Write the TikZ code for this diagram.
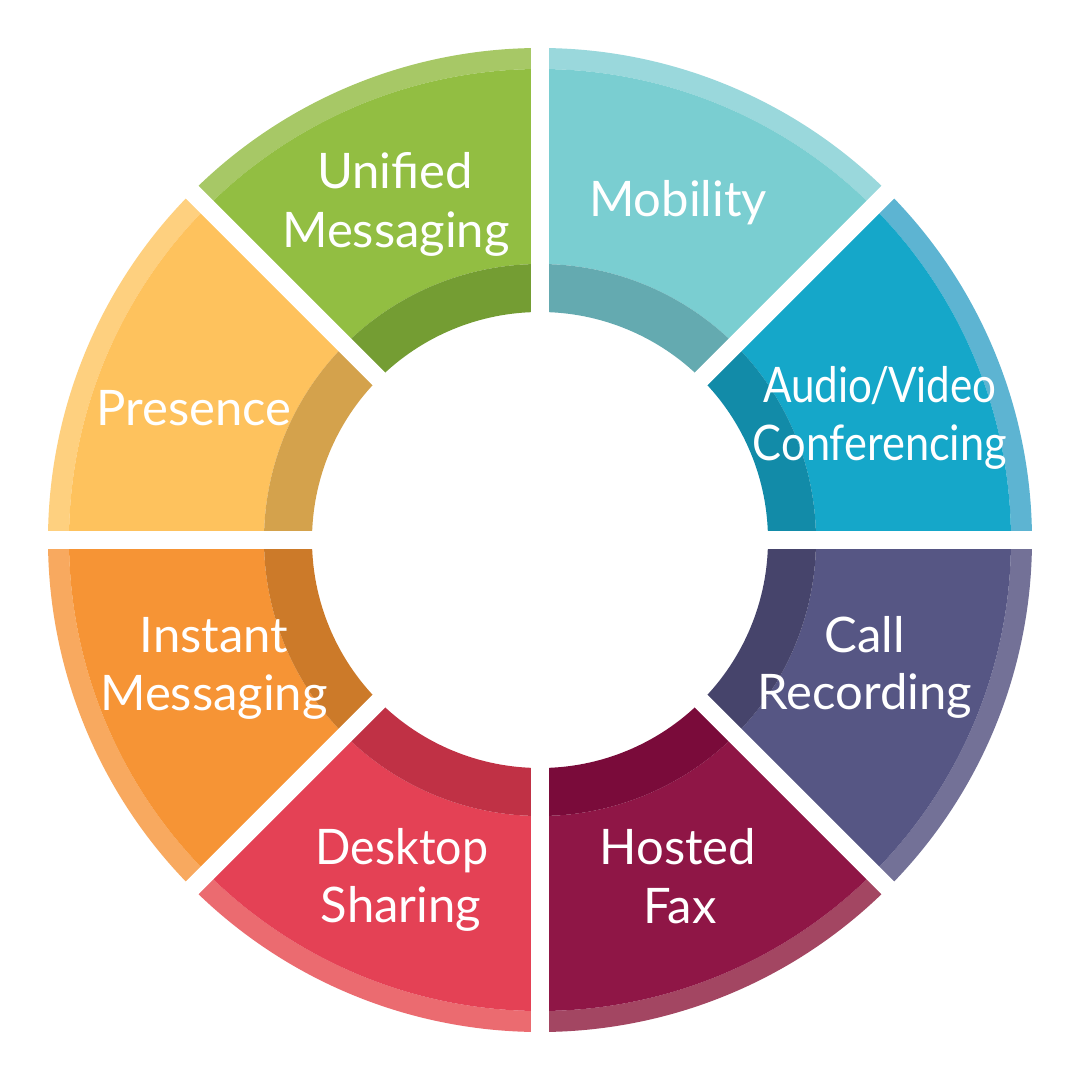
\documentclass[tikz,border=0pt]{standalone}
\usepackage{fontspec}
\setmainfont{Lato}
\definecolor{umM}{HTML}{92BE42}\definecolor{umR}{HTML}{A7C866}\definecolor{umD}{HTML}{749D33}
\definecolor{moM}{HTML}{7ACED1}\definecolor{moR}{HTML}{9AD8DC}\definecolor{moD}{HTML}{64AAB0}
\definecolor{avM}{HTML}{15A7C9}\definecolor{avR}{HTML}{5DB4D2}\definecolor{avD}{HTML}{128BA8}
\definecolor{crM}{HTML}{565684}\definecolor{crR}{HTML}{737197}\definecolor{crD}{HTML}{46446B}
\definecolor{hfM}{HTML}{8F1646}\definecolor{hfR}{HTML}{A34662}\definecolor{hfD}{HTML}{7A0B3A}
\definecolor{dsM}{HTML}{E44155}\definecolor{dsR}{HTML}{EB6B70}\definecolor{dsD}{HTML}{C03145}
\definecolor{imM}{HTML}{F69435}\definecolor{imR}{HTML}{F8A95F}\definecolor{imD}{HTML}{CC7A29}
\definecolor{prM}{HTML}{FEC25D}\definecolor{prR}{HTML}{FED07F}\definecolor{prD}{HTML}{D4A24C}
\newcommand\donutband[4]{% start angle, inner r, outer r, colour
  \fill[#4] (#1:#3) arc[start angle=#1, end angle=#1+45, radius=#3]
    -- (#1+45:#2) arc[start angle=#1+45, end angle=#1, radius=#2] -- cycle;}
\newcommand\donutseg[2]{% start angle, colour prefix
  \donutband{#1}{471}{492}{#2R}
  \donutband{#1}{276}{471}{#2M}
  \donutband{#1}{228}{276}{#2D}}
\tikzset{lbl/.style={text=white, font=\fontsize{49}{58}\selectfont, anchor=base, inner sep=0pt},
  gapline/.style={white, line width=18pt}}
\begin{document}
\begin{tikzpicture}[x=1pt,y=1pt]
\useasboundingbox[fill=white] (-540,-540) rectangle (540,540);
\donutseg{0}{av}
\donutseg{45}{mo}
\donutseg{90}{um}
\donutseg{135}{pr}
\donutseg{180}{im}
\donutseg{225}{ds}
\donutseg{270}{hf}
\donutseg{315}{cr}
\coordinate (c) at (0,0);
\foreach \a in {0,45,...,315} {
  \coordinate (g\a) at (\a:520);
  \draw[gapline] (c) -- (g\a);
}
\node[lbl] (um1) at (-145,352) {Unified};
\node[lbl] (um2) at (-144,293) {Messaging};
\node[lbl] (mo1) at (138,324) {Mobility};
\node[lbl] (av1) at (340,138) {\scalebox{0.86}[1]{Audio\kern-2pt/\kern-2pt Video}};
\node[lbl] (av2) at (340,80) {\scalebox{0.885}[1]{Conferencing}};
\node[lbl] (cr1) at (325,-112) {Call};
\node[lbl] (cr2) at (325,-169) {Recording};
\node[lbl] (hf1) at (138,-324) {Hosted};
\node[lbl] (hf2) at (140,-383) {Fax};
\node[lbl] (ds1) at (-138,-324) {\scalebox{0.95}[1]{Desktop}};
\node[lbl] (ds2) at (-139,-382) {Sharing};
\node[lbl] (im1) at (-326,-112) {Instant};
\node[lbl] (im2) at (-326,-170) {Messaging};
\node[lbl] (pr1) at (-346,115) {Presence};
\end{tikzpicture}
\end{document}
